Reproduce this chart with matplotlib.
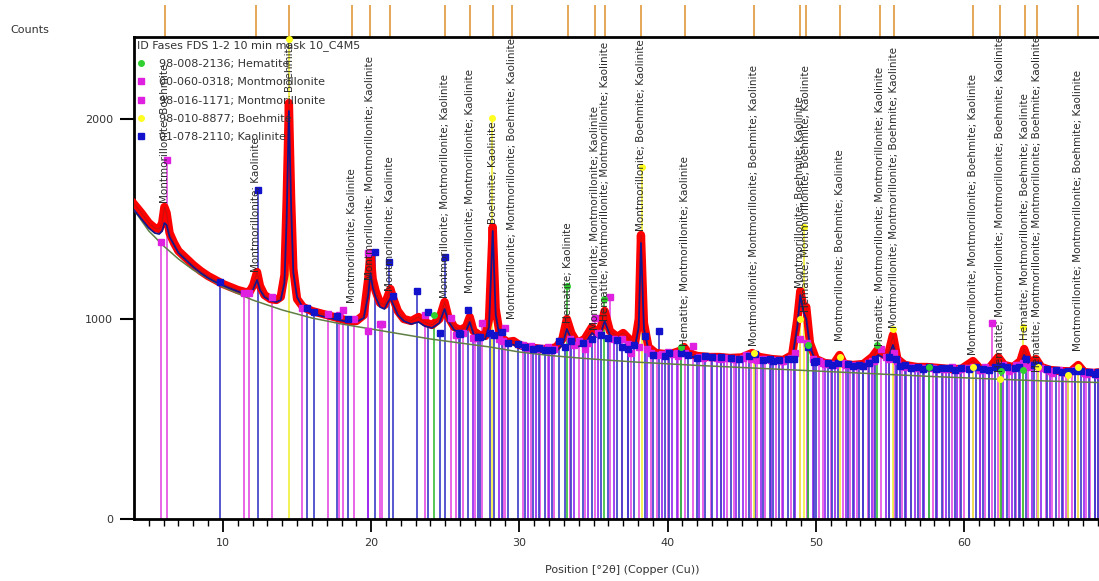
import numpy as np
import matplotlib
matplotlib.use("Agg")
import matplotlib.pyplot as plt
import matplotlib.transforms as mtransforms
from matplotlib.lines import Line2D

# ---------------- data ----------------
obs_x = [4.0, 4.5, 5.0, 5.4, 5.7, 5.9, 6.05, 6.2, 6.4, 6.7, 7.0, 7.5, 8.0, 8.5, 9.0, 9.5,
         10.0, 10.5, 11.0, 11.5, 11.8, 12.05, 12.3, 12.5, 12.8, 13.2, 13.6, 13.9, 14.15, 14.3,
         14.45, 14.6, 14.75, 15.0, 15.4, 16.0, 16.5, 17.0, 17.5, 18.0, 18.5, 19.0, 19.5, 19.8,
         19.95, 20.1, 20.3, 20.6, 20.9, 21.1, 21.3, 21.5, 21.8, 22.2, 22.7, 23.2, 23.6, 24.1,
         24.6, 24.95, 25.2, 25.6, 26.0, 26.4, 26.65, 26.9, 27.3, 27.7, 27.95, 28.2, 28.4, 28.7,
         29.2, 29.6, 30.0, 30.5, 31.0, 31.5, 32.0, 32.5, 32.9, 33.2, 33.5, 33.9, 34.4, 34.9,
         35.2, 35.5, 35.75, 36.1, 36.6, 37.0, 37.4, 37.8, 38.05, 38.2, 38.4, 38.7, 39.2, 39.8,
         40.4, 40.8, 41.1, 41.4, 42.0, 42.8, 43.5, 44.2, 45.0, 45.7, 46.2, 47.0, 47.8, 48.4,
         48.75, 48.95, 49.15, 49.35, 49.6, 50.0, 50.6, 51.2, 51.6, 51.9, 52.5, 53.2, 53.8, 54.2,
         54.6, 54.9, 55.2, 55.5, 56.0, 56.8, 57.5, 58.3, 59.0, 59.8, 60.6, 61.1, 61.7, 62.3,
         62.7, 63.3, 63.8, 64.05, 64.4, 64.85, 65.2, 65.8, 66.5, 67.2, 67.7, 68.1, 68.7, 69.3]
obs_y = [1575, 1530, 1480, 1455, 1450, 1480, 1560, 1530, 1430, 1380, 1340, 1305, 1270, 1240, 1215, 1195,
         1175, 1160, 1145, 1135, 1135, 1170, 1235, 1165, 1120, 1100, 1095, 1110, 1220, 1600,
         2080, 1600, 1250, 1100, 1060, 1040, 1030, 1020, 1010, 1000, 990, 990, 1020, 1200,
         1330, 1200, 1140, 1080, 1070, 1110, 1150, 1100, 1040, 1000, 990, 1010, 985, 970,
         1000, 1085, 1010, 960, 945, 960, 1010, 940, 920, 915, 1000, 1460, 1050, 910,
         885, 890, 870, 860, 855, 850, 850, 860, 900, 1000, 930, 880, 900, 960,
         930, 960, 1040, 940, 910, 930, 900, 880, 1000, 1420, 980, 860, 830, 825,
         830, 840, 860, 830, 815, 810, 810, 805, 808, 830, 810, 800, 795, 820,
         1000, 1140, 1060, 1060, 880, 800, 780, 775, 820, 775, 770, 775, 810, 850,
         820, 830, 920, 800, 770, 760, 760, 755, 750, 750, 790, 750, 755, 810,
         770, 760, 790, 850, 780, 800, 760, 745, 740, 738, 770, 735, 730, 735]
fit_y = [1545, 1500, 1455, 1430, 1425, 1440, 1480, 1470, 1410, 1370, 1330, 1295, 1260, 1230, 1205, 1185,
         1168, 1152, 1138, 1125, 1125, 1150, 1195, 1145, 1110, 1092, 1085, 1095, 1180, 1500,
         2040, 1560, 1230, 1110, 1055, 1030, 1018, 1008, 1000, 992, 985, 985, 1005, 1120,
         1230, 1160, 1110, 1060, 1050, 1080, 1105, 1070, 1020, 990, 975, 985, 965, 955,
         980, 1050, 990, 945, 932, 940, 985, 925, 905, 900, 960, 1440, 1020, 895,
         870, 872, 855, 845, 840, 835, 835, 840, 870, 950, 900, 860, 875, 930,
         910, 930, 990, 920, 890, 890, 870, 860, 960, 1380, 950, 845, 820, 812,
         815, 825, 835, 815, 805, 800, 798, 795, 795, 810, 795, 788, 785, 800,
         960, 1120, 1040, 1000, 860, 785, 770, 765, 785, 765, 760, 762, 790, 820,
         805, 810, 870, 790, 760, 750, 750, 745, 742, 742, 765, 740, 742, 780,
         755, 748, 770, 820, 770, 785, 752, 738, 733, 730, 750, 728, 725, 725]

bg_x = [4, 5, 6, 7, 8, 10, 12, 14, 16, 18, 20, 22, 24, 26, 28, 30, 32, 34, 36, 38, 40,
        42, 44, 46, 48, 50, 52, 54, 56, 58, 60, 62, 64, 66, 69.3]
bg_y = [1545, 1440, 1365, 1300, 1245, 1160, 1095, 1045, 1005, 975, 950, 925, 900, 880, 860,
        835, 818, 805, 794, 784, 776, 768, 761, 754, 747, 740, 733, 726, 719, 712, 706,
        700, 694, 689, 682]

# Phase sticks: positions (deg 2theta) and stick tops (counts)
mont1_pos = [5.80, 6.25, 11.43, 11.77, 13.30, 15.33, 17.06, 17.80, 18.07, 18.82, 19.76, 20.60,
             20.74, 23.64, 25.39, 26.2, 27.5, 29.05, 30.25, 31.4, 32.3, 34.0, 35.1, 36.1, 36.9,
             38.9, 40.0, 41.7, 42.9, 44.0, 45.3, 46.6, 47.3, 48.3, 50.2, 51.0, 52.3, 53.5, 54.4,
             55.8, 56.4, 57.9, 59.2, 60.0, 61.4, 61.9, 63.5, 64.3, 65.5, 66.4, 67.3, 68.5,
             25.7, 27.0, 28.9, 30.8, 31.9, 33.4, 34.4, 37.5, 38.1, 39.3, 40.7, 41.2, 42.4, 43.6,
             44.5, 45.6, 46.0, 47.7, 48.9, 49.4, 50.5, 51.8, 52.8, 53.9, 54.9, 55.3, 57.0, 58.6,
             59.7, 60.6, 61.1, 62.3, 63.0, 64.0, 64.9, 65.9, 66.9, 67.7, 68.2, 69.0]
mont1_top = [1385, 1795, 1130, 1130, 1110, 1055, 1025, 1020, 1045, 1000, 1330, 975,
             975, 1020, 1005, 930, 980, 955, 870, 855, 850, 890, 1005, 1110, 900,
             830, 835, 865, 810, 805, 820, 800, 795, 805, 790, 775, 770, 780, 850,
             765, 760, 755, 760, 755, 760, 980, 770, 760, 750, 745, 740, 735,
             920, 905, 890, 865, 858, 900, 850, 830, 860, 820, 815, 830, 805, 800,
             798, 800, 795, 788, 900, 880, 778, 780, 770, 790, 800, 830, 755, 750,
             748, 760, 745, 760, 740, 780, 765, 730, 728, 745, 725, 722]
mont2_pos = [19.8, 26.9, 28.6, 30.6, 31.1, 32.0, 33.7, 34.6, 35.3, 36.4, 37.3, 38.6, 39.6,
             40.3, 40.6, 42.1, 43.3, 43.8, 44.6, 45.1, 46.3, 47.0, 47.8, 48.6, 49.8, 50.6,
             51.3, 52.0, 52.6, 53.2, 53.8, 54.7, 55.5, 56.1, 56.7, 57.3, 58.2, 58.8, 59.5,
             60.3, 61.1, 61.7, 62.6, 63.2, 63.8, 64.6, 65.2, 65.8, 66.7, 67.5, 68.1, 68.8]
mont2_top = [940, 905, 900, 855, 850, 845, 870, 880, 930, 900, 875, 850, 825,
             825, 830, 810, 805, 805, 800, 805, 800, 795, 790, 830, 800, 775,
             770, 770, 765, 765, 790, 810, 790, 760, 755, 755, 750, 748, 745,
             755, 745, 750, 770, 750, 770, 770, 755, 740, 735, 745, 730, 725]
kaol_pos = [9.81, 12.38, 15.64, 16.11, 17.70, 18.41, 20.28, 21.23, 21.50, 23.07, 23.82, 24.63,
            24.99, 25.9, 26.5, 27.2, 27.35, 28.3, 28.85, 29.9, 30.9, 31.7, 32.7, 33.05, 34.3,
            34.9, 35.5, 35.95, 36.6, 37.7, 38.5, 39.4, 40.1, 40.9, 41.4, 42.5, 43.0, 43.6,
            44.3, 45.5, 45.9, 46.9, 47.5, 48.1, 49.5, 50.0, 50.8, 51.5, 52.2, 52.9, 53.6,
            54.0, 54.9, 55.4, 56.0, 56.9, 57.6, 58.5, 59.0, 59.8, 60.8, 61.3, 62.1, 62.9,
            63.4, 64.2, 65.0, 65.6, 66.2, 67.0, 67.9, 68.4, 69.0,
            26.0, 28.0, 29.2, 30.4, 31.3, 32.2, 33.5, 36.9, 37.3, 39.0, 39.8, 42.0, 44.8,
            46.4, 47.1, 48.5, 49.9, 51.1, 52.5, 53.2, 55.7, 56.4, 57.2, 58.1, 59.4, 60.3,
            61.7, 62.5, 63.7, 64.7, 66.6, 67.5, 68.8]
kaol_top = [1185, 1645, 1055, 1035, 1015, 1000, 1335, 1285, 1115, 1140, 1035, 930,
            1310, 930, 1045, 910, 910, 920, 935, 875, 850, 845, 890, 860, 880,
            900, 920, 905, 895, 870, 915, 940, 830, 830, 820, 815, 810, 810,
            805, 815, 825, 800, 795, 800, 860, 790, 780, 780, 775, 772, 780,
            800, 810, 800, 770, 762, 760, 757, 755, 755, 760, 752, 760, 760,
            755, 800, 770, 750, 745, 740, 738, 735, 733,
            925, 930, 880, 860, 855, 845, 890, 860, 850, 820, 815, 805, 798,
            795, 790, 800, 785, 770, 765, 765, 765, 755, 752, 750, 747, 748,
            745, 765, 760, 770, 733, 740, 725]
boeh_pos = [14.43, 28.17, 38.3, 45.8, 48.9, 49.2, 51.6, 55.2, 60.6, 62.4, 64.0, 65.0, 67.0, 67.7]
boeh_top = [2400, 2005, 1760, 830, 1000, 1460, 810, 950, 760, 700, 960, 760, 720, 760]
hem_pos = [24.27, 33.2, 35.7, 40.9, 49.5, 54.1, 57.6, 62.5, 64.0]
hem_top = [1020, 1165, 1100, 860, 870, 870, 760, 740, 745]

# Peak annotations (position, text, text start in counts)
peak_pos = [6.1, 12.24, 14.47, 18.73, 19.95, 21.3, 25.0, 26.7, 28.2, 29.47, 33.3, 35.1, 35.8,
            38.2, 41.2, 45.8, 48.9, 49.35, 51.65, 54.3, 55.25, 60.6, 62.4, 64.1, 64.9, 67.7]
peak_text = ["Montmorillonite; Boehmite",
             "Montmorillonite; Kaolinite",
             "Boehmite",
             "Montmorillonite; Kaolinite",
             "Montmorillonite; Montmorillonite; Kaolinite",
             "Montmorillonite; Kaolinite",
             "Montmorillonite; Montmorillonite; Kaolinite",
             "Montmorillonite; Montmorillonite; Kaolinite",
             "Boehmite; Kaolinite",
             "Montmorillonite; Montmorillonite; Boehmite; Kaolinite",
             "Hematite; Kaolinite",
             "Montmorillonite; Montmorillonite; Kaolinite",
             "Hematite; Montmorillonite; Montmorillonite; Kaolinite",
             "Montmorillonite; Boehmite; Kaolinite",
             "Hematite; Montmorillonite; Kaolinite",
             "Montmorillonite; Montmorillonite; Boehmite; Kaolinite",
             "Montmorillonite; Boehmite; Kaolinite",
             "Hematite; Montmorillonite; Boehmite; Kaolinite",
             "Montmorillonite; Boehmite; Kaolinite",
             "Hematite; Montmorillonite; Montmorillonite; Kaolinite",
             "Montmorillonite; Montmorillonite; Boehmite; Kaolinite",
             "Montmorillonite; Montmorillonite; Boehmite; Kaolinite",
             "Hematite; Montmorillonite; Montmorillonite; Boehmite; Kaolinite",
             "Hematite; Montmorillonite; Boehmite; Kaolinite",
             "Hematite; Montmorillonite; Montmorillonite; Boehmite; Kaolinite",
             "Montmorillonite; Montmorillonite; Boehmite; Kaolinite"]
peak_text_base = [1580, 1235, 2140, 1080, 1195, 1140, 1105, 1130, 1475, 1000, 980, 945, 990,
                  1440, 865, 865, 1155, 1035, 890, 865, 955, 820, 735, 895, 735, 840]

legend_title = "ID Fases FDS 1-2 10 min mask 10_C4M5"
legend_labels = ["98-008-2136; Hematite", "00-060-0318; Montmorillonite",
                 "98-016-1171; Montmorillonite", "98-010-8877; Boehmite",
                 "01-078-2110; Kaolinite"]

x_ticks = [10, 20, 30, 40, 50, 60]
y_ticks = [0, 1000, 2000]

# ---------------- drawing ----------------
W, H = 1099, 581
fig = plt.figure(figsize=(W / 100, H / 100), dpi=100)
fig.patch.set_facecolor("white")
ax = fig.add_axes([134 / W, 62 / H, 1 - 134 / W, 482 / H])
ax.set_xlim(4.0, 69.1)
ax.set_ylim(0, 2410)

c_mont1, c_mont2, c_kaol, c_boeh, c_hem = "#e23ee2", "#8f22f0", "#3a3ac8", "#f2f040", "#3cbf3c"
ax.vlines(mont1_pos, 0, mont1_top, colors=c_mont1, lw=1.4, alpha=0.8, zorder=1)
ax.vlines(mont2_pos, 0, mont2_top, colors=c_mont2, lw=1.4, alpha=0.85, zorder=1)
ax.vlines(kaol_pos, 0, kaol_top, colors=c_kaol, lw=1.4, alpha=0.85, zorder=1)
ax.vlines(boeh_pos, 0, boeh_top, colors=c_boeh, lw=1.3, alpha=0.95, zorder=1)
ax.vlines(hem_pos, 0, hem_top, colors=c_hem, lw=1.3, alpha=0.95, zorder=1)

ax.plot(obs_x, obs_y, color="#ff0000", lw=6, solid_joinstyle="round", zorder=3)
ax.plot(obs_x, obs_y, color="#c81010", lw=0.8, zorder=3.2)
ax.plot(bg_x, bg_y, color="#5f7f45", lw=1.1, zorder=4)
ax.plot(obs_x, fit_y, color="#16168c", lw=1.3, zorder=5)

ax.plot(mont1_pos, mont1_top, "s", ms=5, color="#e020e0", zorder=6, lw=0)
ax.plot(mont2_pos, mont2_top, "s", ms=5, color="#e020e0", zorder=6, lw=0)
ax.plot(kaol_pos, kaol_top, "s", ms=5, color="#1212cc", zorder=6.5, lw=0)
ax.plot(boeh_pos, boeh_top, "o", ms=4, color="#ffff20", zorder=7, lw=0, clip_on=False)
ax.plot(hem_pos, hem_top, "o", ms=4, color="#30d030", zorder=7, lw=0)

for xp, txt, yb in zip(peak_pos, peak_text, peak_text_base):
    ax.text(xp, yb, txt, rotation=90, ha="center", va="bottom", fontsize=7.5,
            color="#2a2a2a", zorder=8, clip_on=False)

trans = mtransforms.blended_transform_factory(ax.transData, ax.transAxes)
ax.vlines(peak_pos, 1.0, 1.0 + 32 / 482, transform=trans, colors="#e3a04a", lw=1.3,
          clip_on=False, zorder=2)

handles = [Line2D([], [], ls="", marker="o", ms=4, color="#30d030"),
           Line2D([], [], ls="", marker="s", ms=5, color="#e020e0"),
           Line2D([], [], ls="", marker="s", ms=5, color="#e020e0"),
           Line2D([], [], ls="", marker="o", ms=4, color="#ffff20"),
           Line2D([], [], ls="", marker="s", ms=5, color="#1212cc")]
leg = ax.legend(handles, legend_labels, title=legend_title, loc="upper left",
                bbox_to_anchor=(0.0, 1.0), frameon=False, alignment="left",
                fontsize=8, title_fontsize=8, handlelength=0.7, handletextpad=1.3,
                labelspacing=0.75, borderaxespad=0.0, borderpad=0.25)
for t in leg.get_texts():
    t.set_color("#333333")
leg.get_title().set_color("#333333")
leg.set_zorder(9)

for side in ["left", "bottom", "top"]:
    ax.spines[side].set_linewidth(2.0)
    ax.spines[side].set_color("black")
ax.spines["right"].set_visible(False)

ax.set_xticks(x_ticks)
ax.set_xticks(np.arange(5, 70, 1), minor=True)
ax.set_yticks(y_ticks)
ax.tick_params(axis="x", which="major", direction="out", length=9, width=1.3,
               labelsize=8, labelcolor="#333333", pad=5)
ax.tick_params(axis="x", which="minor", direction="out", length=5, width=1.0)
ax.tick_params(axis="y", which="major", direction="out", length=10, width=1.5,
               labelsize=8, labelcolor="#333333", pad=5)
ax.tick_params(top=False, right=False)

fig.text(10 / W, 1 - 30 / H, "Counts", fontsize=8, color="#333333", ha="left", va="center")
fig.text(622 / W, 1 - 570 / H, "Position [°2θ] (Copper (Cu))", fontsize=8,
         color="#333333", ha="center", va="center")

fig.savefig("out.png", dpi=100, facecolor="white")
